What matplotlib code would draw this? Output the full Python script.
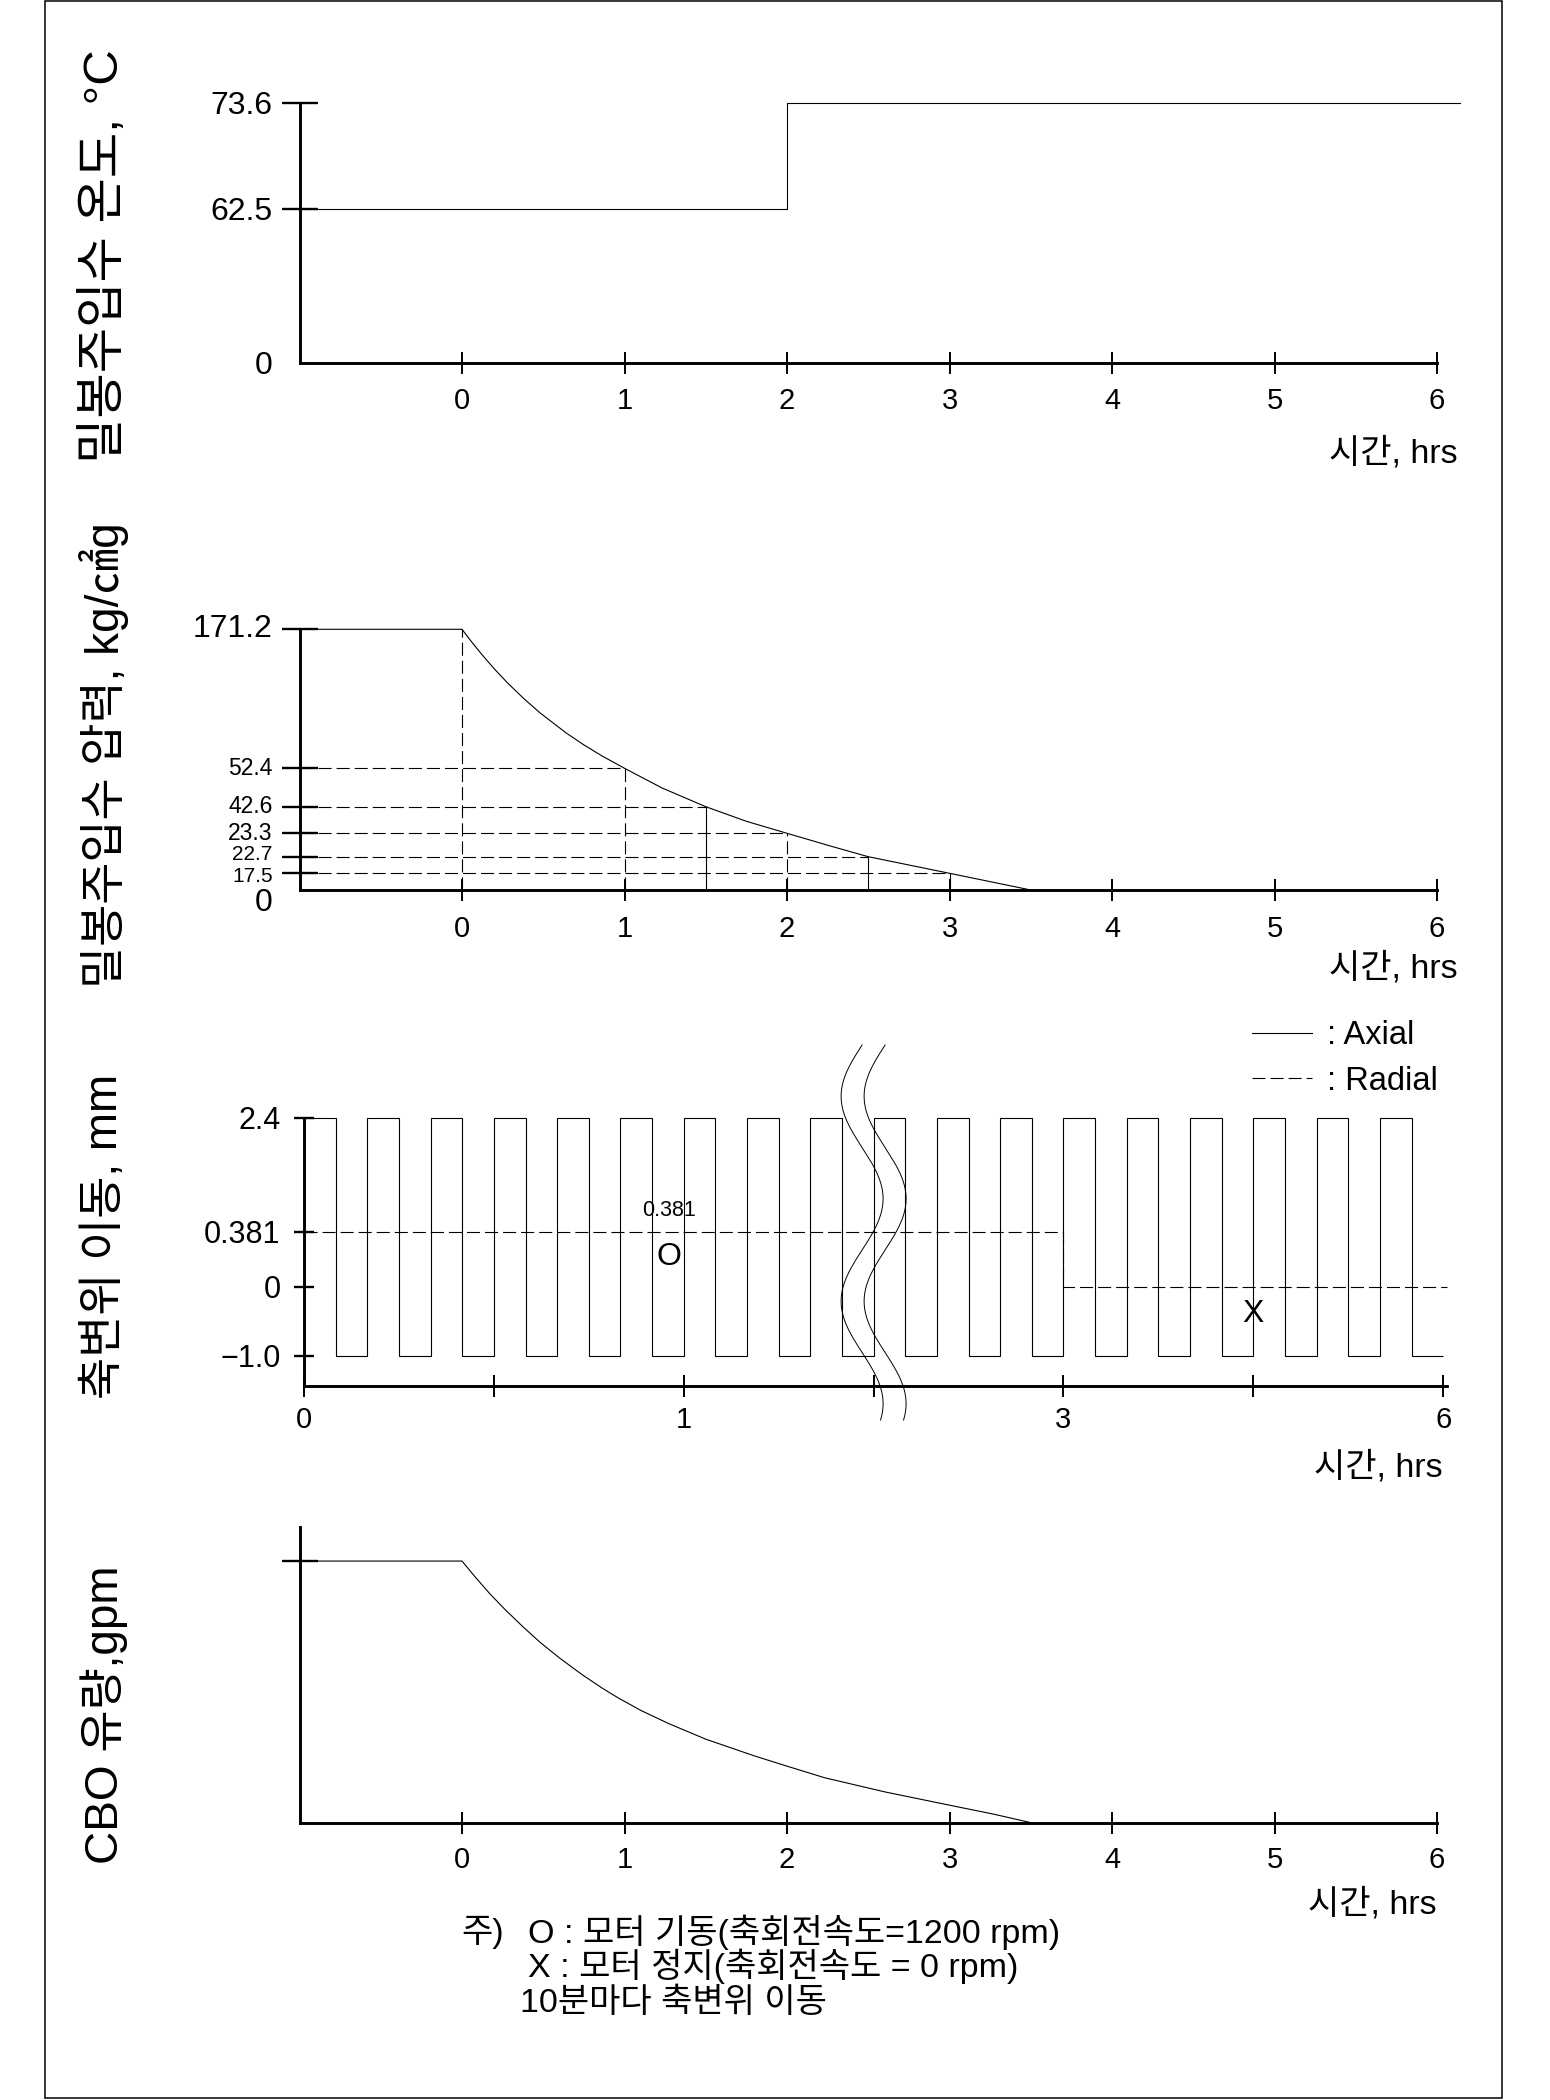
import numpy as np
import matplotlib
matplotlib.use('Agg')
import matplotlib.pyplot as plt
from matplotlib.lines import Line2D
from matplotlib.patches import Rectangle

plt.rcParams['font.family'] = ['Liberation Sans', 'Noto Sans CJK KR', 'DejaVu Sans']
plt.rcParams['lines.scale_dashes'] = False

W, H = 1550, 2100

# ---- data ----
hours = [0, 1, 2, 3, 4, 5, 6]

# seal injection water temperature, C (step up at 2 h)
temp_t = [-1, 2, 2, 6.14]
temp_v = [62.5, 62.5, 73.6, 73.6]
temp_ticks = [0, 62.5, 73.6]

# seal injection water pressure, kg/cm2g
press_t = [-1, 0, 0.06, 0.12, 0.2, 0.28, 0.38, 0.48, 0.64, 0.75, 0.86, 1.0,
           1.23, 1.5, 1.75, 2.0, 2.27, 2.5, 3.0, 3.5]
press_v = [171.2, 171.2, 160.3, 150.0, 137.2, 125.4, 112.0, 99.8, 82.7, 72.4, 63.1, 52.4,
           47.4, 42.6, 32.0, 23.3, 22.97, 22.7, 17.5, 0]
press_mark_t = [0, 1, 1.5, 2, 2.5, 3]
press_mark_v = [171.2, 52.4, 42.6, 23.3, 22.7, 17.5]
press_ticks = [0, 17.5, 22.7, 23.3, 42.6, 52.4, 171.2]

# shaft displacement, mm
shaft_ticks = [-1.0, 0, 0.381, 2.4]
shaft_tick_labels = ['\u22121.0', '0', '0.381', '2.4']
shaft_hour_marks = [0, 1, 3, 6]
shaft_minor_hours = [0.5, 2, 4.5]
axial_levels = [2.4, -1.0]          # axial position toggles
shifts_per_segment = 12             # drawn the same between each labelled hour mark
radial_t = [0, 3, 3, 6.03]
radial_v = [0.381, 0.381, 0, 0]
break_hour = 2

# CBO flow (no scale on the drawing, % of initial)
flow_t = [-1, 0, 0.08, 0.17, 0.26, 0.37, 0.48, 0.6, 0.74, 0.86, 0.96, 1.1, 1.27,
          1.5, 1.8, 2.0, 2.23, 2.6, 3.0, 3.27, 3.51]
flow_v = [100, 100, 94.0, 87.6, 81.8, 75.2, 69.0, 63.0, 56.6, 51.6, 47.8, 43.0, 38.0,
          32.0, 25.6, 21.7, 17.3, 11.9, 6.8, 3.4, 0]

time_label = '시간, hrs'
ylabels = ['밀봉주입수 온도, °C', '밀봉주입수 압력, kg/㎠g', '축변위 이동, mm', 'CBO 유량,gpm']
notes = ['주)', 'O : 모터 기동(축회전속도=1200 rpm)', 'X : 모터 정지(축회전속도 = 0 rpm)', '10분마다 축변위 이동']

DASH = (0, (9.4, 3.6))
LW = 0.8


def px_rect(left, top, right, bottom):
    return [left / W, 1 - bottom / H, (right - left) / W, (bottom - top) / H]


def piecewise(vals, pos):
    vals = np.asarray(vals, float)
    pos = np.asarray(pos, float)
    return (lambda v: np.interp(v, vals, pos)), (lambda p: np.interp(p, pos, vals))


def fig_text(x, y, s, **kw):
    fig.text(x / W, 1 - y / H, s, **kw)


def base_style(ax):
    ax.spines[['top', 'right']].set_visible(False)
    ax.spines['left'].set_linewidth(2.1)
    ax.spines['bottom'].set_linewidth(2.1)
    ax.set_facecolor('none')


fig = plt.figure(figsize=(W / 100, H / 100), dpi=100)
fig.add_artist(Rectangle((44.5 / W, 1 - 2098 / H), (1502 - 44.5) / W, 2097 / H,
                         transform=fig.transFigure, fill=False, lw=1.1, ec='black'))

# ---- panel 1: temperature ----
ax1 = fig.add_axes(px_rect(299.5, 103, 1459.8, 363))
ax1.set_yscale('function', functions=piecewise(temp_ticks, [0, 154, 260]))
ax1.set_xlim(-1, 6.14)
ax1.set_ylim(0, 73.6)
ax1.plot(temp_t, temp_v, color='black', lw=LW, clip_on=False)
base_style(ax1)
ax1.spines['bottom'].set_bounds(-1, 6)
ax1.set_xticks(hours)
ax1.set_yticks(temp_ticks, labels=[f'{v:g}' for v in temp_ticks])
ax1.tick_params(axis='y', direction='inout', length=26.5, width=1.7, pad=6, labelsize=23)
ax1.tick_params(axis='x', direction='inout', length=15.6, width=1.4, pad=9.5, labelsize=21)
ax1.yaxis.get_major_ticks()[0].tick1line.set_visible(False)

# ---- panel 2: pressure ----
ax2 = fig.add_axes(px_rect(299.5, 629.3, 1459.8, 890))
ax2.set_yscale('function', functions=piecewise(press_ticks, [0, 16.7, 33.3, 56.7, 83.3, 121.7, 260.7]))
ax2.set_xlim(-1, 6.14)
ax2.set_ylim(0, 171.2)
ax2.plot(press_t, press_v, color='black', lw=LW, clip_on=False)
guide_dashed = [True, True, False, True, False, False]
for t, v, dashed in zip(press_mark_t, press_mark_v, guide_dashed):
    ax2.plot([t, t], [0, v], color='black', lw=LW, ls=DASH if dashed else '-')
    if t > 0:
        ax2.plot([-1, t], [v, v], color='black', lw=LW, ls=DASH)
base_style(ax2)
ax2.spines['bottom'].set_bounds(-1, 6)
ax2.set_xticks(hours)
ax2.set_yticks(press_ticks[1:], labels=[])
ax2.tick_params(axis='y', direction='inout', length=26.5, width=1.7)
ax2.tick_params(axis='x', direction='inout', length=15.6, width=1.4, pad=10.5, labelsize=21)
# the labels are crowded near zero on the drawing; nudge them apart a little
label_nudge = [-13, -3, 2, 0, 0, 0, 0]
label_size = [23, 15, 15, 16.5, 16.5, 16.5, 23]
for v, dy, fs in zip(press_ticks, label_nudge, label_size):
    ax2.annotate(f'{v:g}', xy=(0, v), xycoords=('axes fraction', 'data'),
                 xytext=(-27, dy), textcoords='offset pixels', ha='right', va='center', fontsize=fs)

# ---- panel 3: shaft displacement ----
ax3 = fig.add_axes(px_rect(304, 1117.7, 1447, 1386))
ax3.set_xscale('function', functions=piecewise(shaft_hour_marks + [9], [0, 1, 2, 3, 4]))
ax3.set_yscale('function', functions=piecewise([-1.439] + shaft_ticks, [0, 30.3, 99.3, 154.3, 268.3]))
ax3.set_xlim(0, 6.03)
ax3.set_ylim(-1.439, 2.4)
edges = np.concatenate([np.linspace(a, b, shifts_per_segment + 1)[:-1]
                        for a, b in zip(shaft_hour_marks[:-1], shaft_hour_marks[1:])] + [[shaft_hour_marks[-1]]])
levels = np.resize(axial_levels, len(edges) - 1)
ax3.stairs(levels, edges, baseline=None, color='black', lw=LW, clip_on=False)
ax3.plot(radial_t, radial_v, color='black', lw=LW, ls=DASH, clip_on=False)
ax3.text(0.96, 0.748, '0.381', fontsize=15.5, ha='center', va='center')
ax3.text(0.96, 0.206, 'O', fontsize=23, ha='center', va='center')
ax3.text(4.5, -0.396, 'X', fontsize=23, ha='center', va='center')
base_style(ax3)
ax3.set_xticks(shaft_hour_marks, labels=[str(h) for h in shaft_hour_marks])
ax3.set_xticks(shaft_minor_hours, minor=True)
ax3.set_yticks(shaft_ticks, labels=shaft_tick_labels)
ax3.tick_params(axis='y', direction='inout', length=13.7, width=1.7, pad=10, labelsize=22)
ax3.tick_params(axis='x', which='both', direction='inout', length=16, width=1.4, pad=6.5, labelsize=21)
ax3.legend([Line2D([], [], color='black', lw=LW), Line2D([], [], color='black', lw=LW, ls=DASH)],
           [': Axial', ': Radial'], loc='upper left', bbox_to_anchor=(1252 / W, 1 - 1020 / H),
           bbox_transform=fig.transFigure, frameon=False, fontsize=23.5, handlelength=1.85,
           handletextpad=0.45, labelspacing=0.45, borderpad=0, borderaxespad=0)

# axis break mark (two wavy lines)
xc = fig.transFigure.inverted().transform(ax3.transData.transform((break_hour, 0)))[0] * W
yy = np.linspace(1045, 1420, 300)
for dx in (-11.5, 11.5):
    xx = xc + dx - 21 * np.sin(2 * np.pi * (yy - 1045) / 205)
    fig.add_artist(Line2D(xx / W, 1 - yy / H, transform=fig.transFigure, color='black', lw=0.7))

# ---- panel 4: CBO flow ----
ax4 = fig.add_axes(px_rect(299.5, 1527, 1459.8, 1823))
ax4.set_xlim(-1, 6.14)
ax4.set_ylim(0, 113)
ax4.plot(flow_t, flow_v, color='black', lw=LW, clip_on=False)
base_style(ax4)
ax4.spines['bottom'].set_bounds(-1, 6)
ax4.set_xticks(hours)
ax4.set_yticks([100], labels=[''])
ax4.tick_params(axis='y', direction='inout', length=26.5, width=1.7)
ax4.tick_params(axis='x', direction='inout', length=15.6, width=1.4, pad=8.5, labelsize=21)

# ---- texts ----
for x, y in [(1458, 453), (1458, 968), (1443, 1467), (1437, 1904)]:
    fig_text(x, y, time_label, fontsize=24.5, ha='right', va='center')
for y, s, fs in zip([256, 755, 1236, 1715], ylabels, [35.5, 33, 33, 33]):
    fig_text(104.5, y, s, fontsize=fs, rotation=90, ha='center', va='center')

fig_text(461, 1932, notes[0], fontsize=24.5, va='center')
fig_text(528, 1932, notes[1], fontsize=24.5, va='center')
fig_text(528, 1966, notes[2], fontsize=24.5, va='center')
fig_text(520, 2003, notes[3], fontsize=24.5, va='center')

fig.savefig('out.png', dpi=100)
